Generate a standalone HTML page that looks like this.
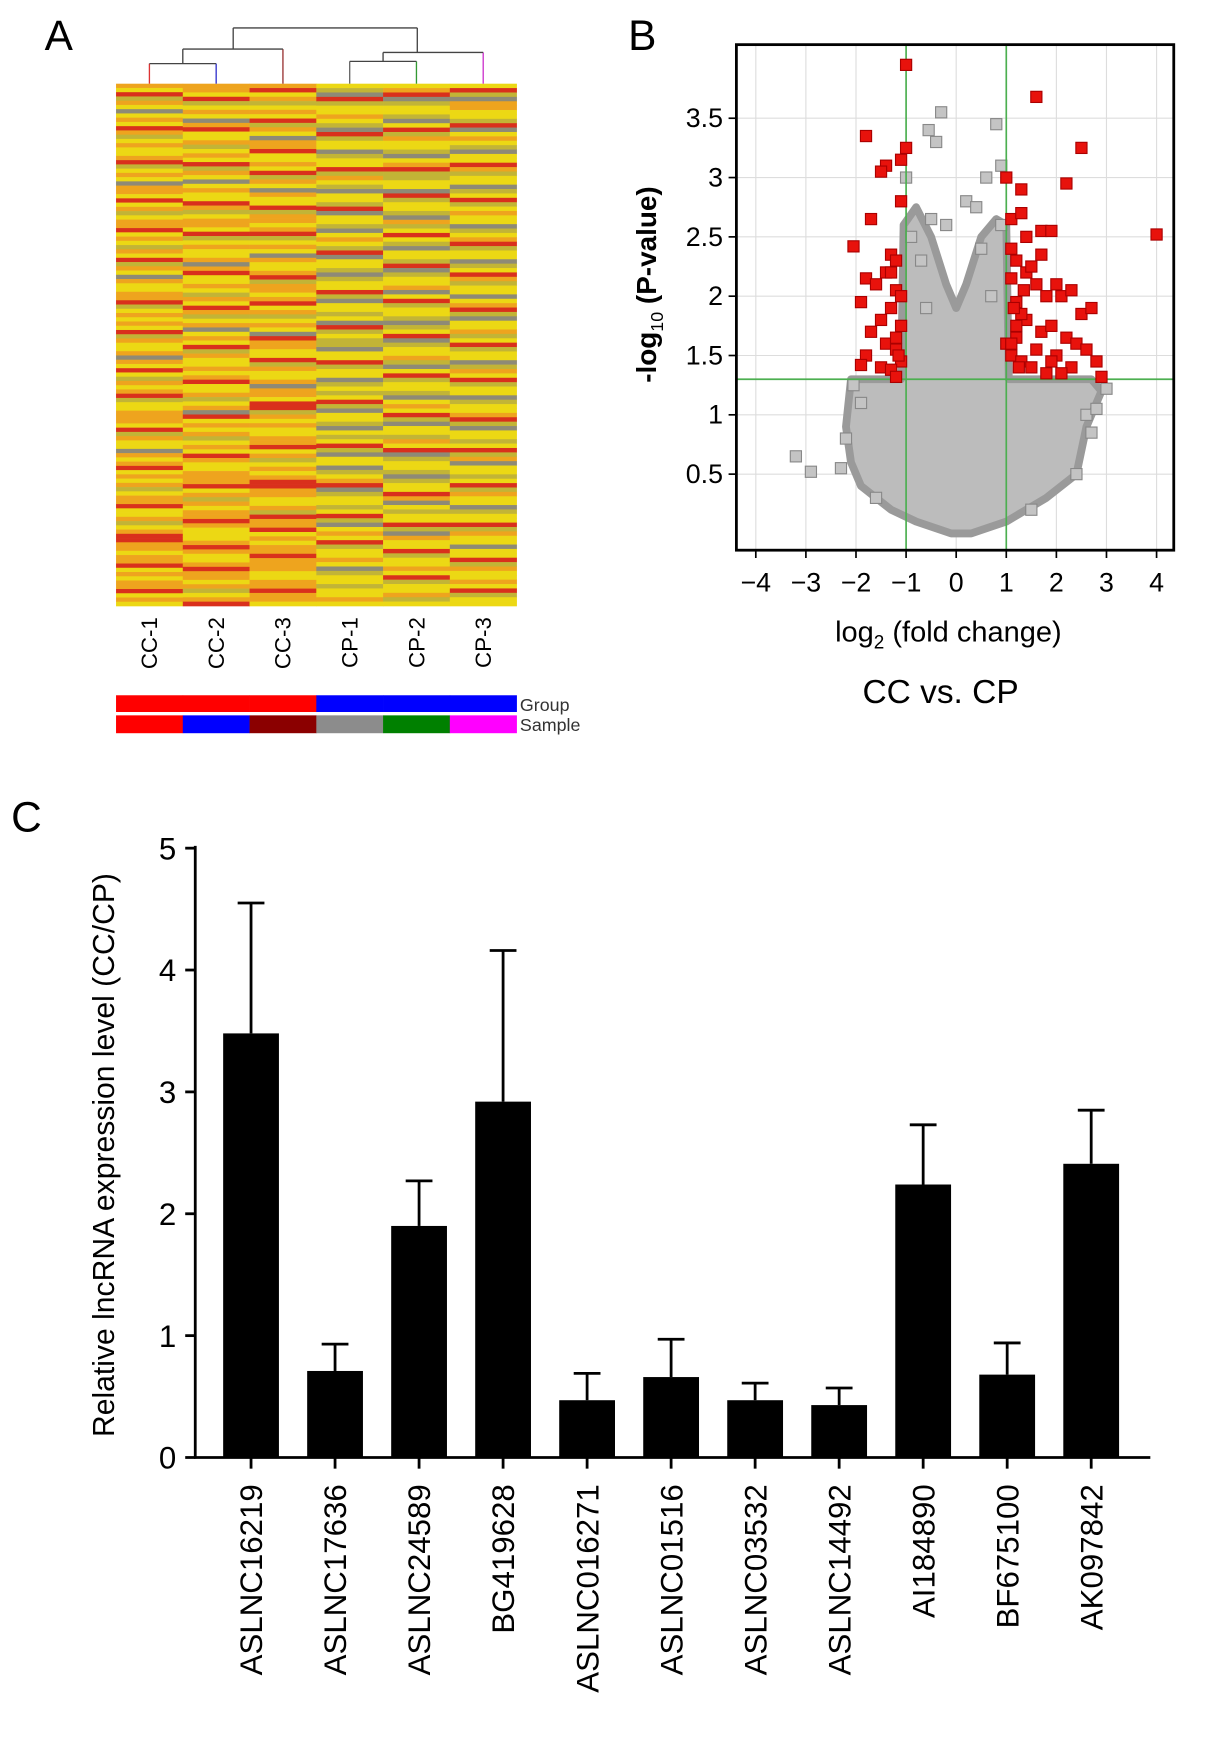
<!DOCTYPE html>
<html><head><meta charset="utf-8"><style>
html,body{margin:0;padding:0;background:#fff;}
svg{display:block;font-family:"Liberation Sans",sans-serif;}
</style></head><body>
<svg id="fig" width="1205" height="1751" viewBox="0 0 1080 1569" preserveAspectRatio="none" xmlns="http://www.w3.org/2000/svg">
<g id="pa"></g>
<g id="pb"></g>
<g id="pc"></g>
</svg>
<script>
const NS="http://www.w3.org/2000/svg";
function mk(parent,tag,attrs,text){const e=document.createElementNS(NS,tag);for(const k in attrs)e.setAttribute(k,attrs[k]);if(text!==undefined)e.textContent=text;parent.appendChild(e);return e;}

/* ---------- Panel A data ---------- */
const heatSamples=["CC-1","CC-2","CC-3","CP-1","CP-2","CP-3"];
const heatRows=[
"oyrgoybyoyrogyoyyorgyoybooyryogyooryoygoyrgoyboyyoorgyoyoyrgoyyoboyrygoyorgyyoooyrgoyyboyoryoyogyooryyogyorrooyooryoyooryoy",
"ooyrgyoyboryyogyoyrgoybyoyyrogyooyrgyoyyoboryyoygoyrogyobyoyrgoyyoyoryyogyobryoyogyoyroyyoooryogoyooroyyyoroyyorooyogyor",
"oryogyoyrgoybooryyoyrgoyboyyrgooyorgyoyboyyorgooyoryogyoybrooyyrgoyyobooyrrgoyoyyooryogyoyorrooyyogrooryoyooroooyyoorooy",
"ygbrgyyoygbrgyybgyyrgoygbyygrbyygbyoygrbyygbgyyrgbyygybrgyggbyyrgyybgygyrgbyygbygyrgbyybgyorbgyygyrgbyoyrgyyoybgyygyyoy",
"yorbgyygbyrgoyygbyorggyybrgyygbogyrygbyygrbgyyobyrgyygbgyrbgyyogbyrgyygbyoyrgbyygoyrbgyygbgyyrobygyyrgboyyrgyyoyrgyyogy",
"yrgbooyygrbyoygbyyrogyybgyrgyoyybgyorgyybgyrogyybyorgbyyogyrgyybgoyrgyybgyyorgbyygyrgobyygyrgoyybgyyrgoyybyyrgoyyoyrgyy"
];
const heatColors={y:"#ecd814",o:"#eea41e",r:"#d9301c",g:"#c2b436",b:"#8e8a76",k:"#4a4a3a"};
const groupColors=["#ff0000","#ff0000","#ff0000","#0000ff","#0000ff","#0000ff"];
const sampleColors=["#ff0000","#0000ff","#8b0000","#8c8c8c","#008000","#ff00ff"];

(function(){
const g=document.getElementById('pa');
const t=mk(g,'text',{x:40,y:45,'font-size':38});t.textContent='A';


const x0=104,x1=463,y0=75,y1=543;
const cw=(x1-x0)/heatSamples.length;
heatSamples.forEach((s,c)=>{
  const str=heatRows[c];const rh=(y1-y0)/str.length;
  for(let r=0;r<str.length;r++){
    const e=mk(g,'rect',{x:x0+c*cw,y:y0+r*rh,width:cw+0.3,height:rh+0.3,fill:heatColors[str[r]]});
    
    
  }
  const lx=x0+(c+0.5)*cw;
  const lb=mk(g,'text',{x:0,y:0,'font-size':20,'text-anchor':'end',transform:`translate(${lx+7},553) rotate(-90)`},s);
  
  
  const gr=mk(g,'rect',{x:x0+c*cw,y:623,width:cw+0.3,height:15,fill:groupColors[c]});
  
  
  const sr=mk(g,'rect',{x:x0+c*cw,y:641,width:cw+0.3,height:16,fill:sampleColors[c]});
  
  
});
const gl=mk(g,'text',{x:466,y:637,'font-size':16,fill:'#333'},'Group');


const sl=mk(g,'text',{x:466,y:655,'font-size':16,fill:'#333'},'Sample');


const cx=i=>x0+(i+0.5)*cw;
const lines=[
 [cx(0),75,cx(0),57,'#d33'],[cx(1),75,cx(1),57,'#33c'],[cx(0),57,cx(1),57,'#444'],
 [(cx(0)+cx(1))/2,57,(cx(0)+cx(1))/2,44,'#444'],[cx(2),75,cx(2),44,'#933'],[(cx(0)+cx(1))/2,44,cx(2),44,'#444'],
 [cx(3),75,cx(3),55,'#666'],[cx(4),75,cx(4),55,'#393'],[cx(3),55,cx(4),55,'#444'],
 [(cx(3)+cx(4))/2,55,(cx(3)+cx(4))/2,47,'#444'],[cx(5),75,cx(5),47,'#c3c'],[(cx(3)+cx(4))/2,47,cx(5),47,'#444'],
 [209,44,209,25,'#444'],[374,47,374,25,'#444'],[209,25,374,25,'#444']
];
const dg=mk(g,'g',{});


lines.forEach(l=>mk(dg,'line',{x1:l[0],y1:l[1],x2:l[2],y2:l[3],stroke:l[4],'stroke-width':1.2}));
})();

/* ---------- Panel B data ---------- */
const volXTicks=[-4,-3,-2,-1,0,1,2,3,4];
const volYTicks=[0.5,1,1.5,2,2.5,3,3.5];
const volThresholdP=1.3;
const volThresholdFC=[-1,1];
const grayCloudX=[-0.1,-0.8,-1.3,-1.9,-2.1,-2.2,-2.1,-1.1,-1.05,-0.8,-0.5,-0.2,0,0.2,0.5,0.8,1.0,1.05,2.7,2.9,2.6,2.4,1.8,1.0,0.3];
const grayCloudY=[0.0,0.1,0.2,0.4,0.6,0.9,1.3,1.3,2.6,2.75,2.5,2.1,1.9,2.1,2.5,2.65,2.6,1.3,1.3,1.2,0.9,0.5,0.3,0.1,0.0];
const grayX=[-3.2,-2.9,-2.3,-2.2,-2.05,-0.4,-0.55,-0.3,0.8,0.9,0.6,-1.0,0.2,0.4,-0.2,-0.5,3.0,2.4,2.7,2.6,-0.9,0.9,-0.7,0.5,-0.6,0.7,-1.9,2.8,-1.6,1.5];
const grayY=[0.65,0.52,0.55,0.8,1.25,3.3,3.4,3.55,3.45,3.1,3.0,3.0,2.8,2.75,2.6,2.65,1.22,0.5,0.85,1.0,2.5,2.6,2.3,2.4,1.9,2.0,1.1,1.05,0.3,0.2];
const redX=[-1.0,1.6,2.5,-1.8,-1.0,-1.4,-1.5,-1.1,-1.1,1.0,1.3,2.2,-1.7,1.1,1.3,1.7,1.9,4.0,-2.05,-1.3,-1.2,-1.4,-1.8,-1.6,-1.2,-1.9,-1.3,-1.5,-1.1,-1.7,-1.4,-1.2,-1.8,-1.1,-1.5,-1.3,-1.9,-1.2,1.1,1.2,1.4,1.5,1.6,1.8,2.0,2.1,2.3,2.5,2.7,1.2,1.4,1.7,1.9,2.2,2.4,2.6,1.1,1.3,1.5,1.8,2.0,2.3,2.9,1.2,1.6,1.9,2.1,1.4,1.7,1.0,2.8,1.3,-1.1,-1.2,-1.3,-1.15,1.1,1.15,1.2,1.25,1.1,1.35];
const redY=[3.95,3.68,3.25,3.35,3.25,3.1,3.05,3.15,2.8,3.0,2.9,2.95,2.65,2.65,2.7,2.55,2.55,2.52,2.42,2.35,2.3,2.2,2.15,2.1,2.05,1.95,1.9,1.8,1.75,1.7,1.6,1.55,1.5,1.45,1.4,1.38,1.42,1.32,2.4,2.3,2.2,2.25,2.1,2.0,2.1,2.0,2.05,1.85,1.9,1.95,1.8,1.7,1.75,1.65,1.6,1.55,1.5,1.45,1.4,1.35,1.5,1.4,1.32,1.65,1.55,1.45,1.35,2.5,2.35,1.6,1.45,1.85,2.0,1.65,2.2,1.5,2.15,1.9,1.75,1.4,1.6,2.05];

(function(){
const g=document.getElementById('pb');
const t=mk(g,'text',{x:563,y:45,'font-size':38},'B');


const bx0=660,bx1=1052,by0=40,by1=493;
const X=v=>857+v*44.9, Y=v=>478-v*106.3;
volXTicks.forEach(v=>{mk(g,'line',{x1:X(v),y1:by0,x2:X(v),y2:by1,stroke:'#ddd','stroke-width':1});
  mk(g,'line',{x1:X(v),y1:by1,x2:X(v),y2:by1+7,stroke:'#000','stroke-width':1.5});
  const l=mk(g,'text',{x:X(v),y:530,'font-size':24,'text-anchor':'middle'},v<0?'\u2212'+(-v):String(v));
  
  });
volYTicks.forEach(v=>{mk(g,'line',{x1:bx0,y1:Y(v),x2:bx1,y2:Y(v),stroke:'#ddd','stroke-width':1});
  mk(g,'line',{x1:bx0-7,y1:Y(v),x2:bx0,y2:Y(v),stroke:'#000','stroke-width':1.5});
  const l=mk(g,'text',{x:648,y:Y(v)+8,'font-size':24,'text-anchor':'end'},String(v));
  
  });
const cloud=mk(g,'polygon',{points:grayCloudX.map((x,i)=>X(x)+','+Y(grayCloudY[i])).join(' '),fill:'#bcbcbc',stroke:'#9a9a9a','stroke-width':7,'stroke-linejoin':'round'});


grayX.forEach((x,i)=>{const p=mk(g,'rect',{x:X(x)-5,y:Y(grayY[i])-5,width:10,height:10,fill:'#c4c4c4',stroke:'#888','stroke-width':1});
  
  });
mk(g,'line',{x1:bx0,y1:Y(volThresholdP),x2:bx1,y2:Y(volThresholdP),stroke:'#4caf50','stroke-width':1.5});
volThresholdFC.forEach(v=>mk(g,'line',{x1:X(v),y1:by0,x2:X(v),y2:by1,stroke:'#4caf50','stroke-width':1.5}));
redX.forEach((x,i)=>{const p=mk(g,'rect',{x:X(x)-5,y:Y(redY[i])-5,width:10,height:10,fill:'#e8120c',stroke:'#a00','stroke-width':1});
  
  });
const box=mk(g,'rect',{x:bx0,y:by0,width:bx1-bx0,height:by1-by0,fill:'none',stroke:'#000','stroke-width':2.5});


const xt=mk(g,'text',{x:850,y:575,'font-size':26,'text-anchor':'middle'});
xt.innerHTML='log<tspan font-size="17" dy="6">2</tspan><tspan dy="-6"> (fold change)</tspan>';


const yt=mk(g,'text',{'font-size':25,'font-weight':'bold','text-anchor':'middle',transform:'translate(588,255) rotate(-90)'});
yt.innerHTML='-log<tspan font-size="16" dy="6" font-weight="normal">10</tspan><tspan dy="-6"> (P-value)</tspan>';


const ct=mk(g,'text',{x:843,y:630,'font-size':30,'text-anchor':'middle'},'CC vs. CP');


})();

/* ---------- Panel C data ---------- */
const genes=["ASLNC16219","ASLNC17636","ASLNC24589","BG419628","ASLNC016271","ASLNC01516","ASLNC03532","ASLNC14492","AI184890","BF675100","AK097842"];
const means=[3.48,0.71,1.9,2.92,0.47,0.66,0.47,0.43,2.24,0.68,2.41];
const errTops=[4.55,0.93,2.27,4.16,0.69,0.97,0.61,0.57,2.73,0.94,2.85];
const yTicksC=[0,1,2,3,4,5];

(function(){
const g=document.getElementById('pc');
const t=mk(g,'text',{x:10,y:745,'font-size':38},'C');


const Y=v=>1306-v*109.2, X=i=>225+i*75.3;
mk(g,'line',{x1:175,y1:758,x2:175,y2:1307,stroke:'#000','stroke-width':2.5});
mk(g,'line',{x1:174,y1:1306,x2:1031,y2:1306,stroke:'#000','stroke-width':2.5});
yTicksC.forEach(v=>{mk(g,'line',{x1:166,y1:Y(v),x2:175,y2:Y(v),stroke:'#000','stroke-width':2.5});
  const l=mk(g,'text',{x:158,y:Y(v)+10,'font-size':28,'text-anchor':'end'},String(v));
  
  });
genes.forEach((n,i)=>{
  const x=X(i);
  const el=mk(g,'line',{x1:x,y1:Y(errTops[i]),x2:x,y2:Y(means[i]),stroke:'#000','stroke-width':2.5});
  
  
  mk(g,'line',{x1:x-12,y1:Y(errTops[i]),x2:x+12,y2:Y(errTops[i]),stroke:'#000','stroke-width':2.5});
  const b=mk(g,'rect',{x:x-25,y:Y(means[i]),width:50,height:Y(0)-Y(means[i]),fill:'#000'});
  
  
  mk(g,'line',{x1:x,y1:1306,x2:x,y2:1316,stroke:'#000','stroke-width':2.5});
  const l=mk(g,'text',{'font-size':28,'text-anchor':'end',transform:`translate(${x+10},1330) rotate(-90)`},n);
  
  
});
const yt=mk(g,'text',{'font-size':27,'text-anchor':'middle',transform:'translate(102,1035) rotate(-90)'},'Relative lncRNA expression level  (CC/CP)');


})();
</script>
</body></html>
